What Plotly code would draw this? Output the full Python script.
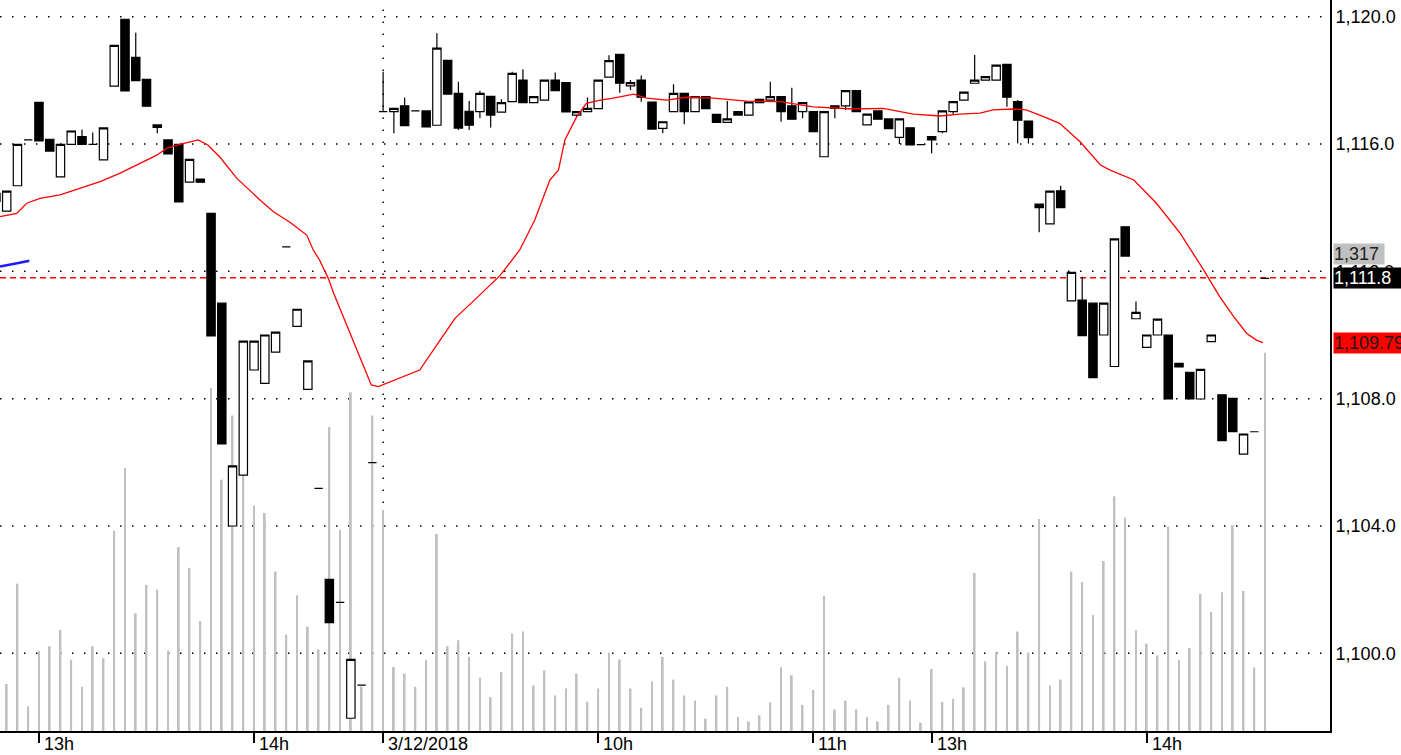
import plotly.graph_objects as go

# ---------------- data ----------------
candle_idx = list(range(-1, 118))
opens = [1114.20, 1113.89, 1114.69, 1116.13, 1117.31, 1116.15, 1114.97, 1115.99, 1116.23, 1115.99,
         1115.50, 1117.82, 1119.92, 1118.72, 1118.03, 1116.60, 1116.13, 1115.99, 1114.80, 1114.90,
         1113.82, 1111.00, 1104.00, 1105.60, 1108.90, 1108.48, 1109.46, 1112.77, 1110.27, 1108.29,
         1105.18, 1102.32, 1101.60, 1097.96, 1099.00, 1105.99,
         1117.02, 1117.02, 1117.20, 1117.04, 1117.04, 1116.59, 1118.63, 1117.59, 1117.03, 1117.02,
         1117.50, 1117.00, 1117.33, 1118.01, 1117.30, 1117.38, 1118.01, 1117.93, 1116.91, 1117.02,
         1117.11, 1118.10, 1118.82, 1117.83, 1118.01, 1117.32, 1116.49, 1117.02, 1117.59, 1117.02,
         1117.49, 1116.93, 1116.68, 1117.02, 1116.91, 1117.30, 1117.38, 1117.49, 1117.20, 1117.02,
         1117.02, 1115.60, 1117.20, 1117.20, 1117.68, 1116.60, 1117.04, 1116.79, 1116.21, 1116.51,
         1115.98, 1116.23, 1116.39, 1117.02, 1117.38, 1117.91, 1118.01, 1118.01, 1118.50, 1117.33,
         1116.72, 1114.11, 1113.49, 1114.53, 1111.07, 1111.10, 1111.00, 1110.00, 1109.01, 1113.40,
         1110.51, 1109.61, 1110.00, 1110.00, 1109.11, 1108.83, 1107.99, 1109.79, 1108.12, 1108.01,
         1106.26, 1106.96, 1111.78]
closes = [1114.45, 1114.52, 1115.99, 1116.13, 1116.10, 1115.78, 1115.99, 1116.41, 1115.99, 1115.99,
          1116.51, 1119.10, 1117.67, 1117.99, 1117.19, 1116.52, 1115.69, 1114.18, 1115.52, 1114.80,
          1109.97, 1106.58, 1105.89, 1109.81, 1109.81, 1110.00, 1110.09, 1112.77, 1110.81, 1109.19,
          1105.18, 1100.96, 1101.60, 1099.81, 1099.00, 1105.99,
          1117.02, 1117.12, 1116.58, 1117.04, 1116.54, 1119.01, 1117.57, 1116.50, 1116.59, 1117.59,
          1116.91, 1117.30, 1118.22, 1117.30, 1117.49, 1118.01, 1117.68, 1117.01, 1117.02, 1117.12,
          1118.01, 1118.62, 1117.91, 1117.93, 1117.47, 1116.47, 1116.70, 1117.59, 1117.02, 1117.49,
          1117.11, 1116.68, 1116.79, 1116.91, 1117.32, 1117.40, 1117.49, 1117.02, 1116.78, 1117.30,
          1116.39, 1117.02, 1117.12, 1117.68, 1117.02, 1116.94, 1116.78, 1116.48, 1116.79, 1115.97,
          1115.98, 1116.13, 1117.04, 1117.33, 1117.63, 1118.01, 1118.12, 1118.48, 1117.47, 1116.75,
          1116.20, 1114.00, 1114.52, 1114.00, 1111.97, 1109.98, 1108.66, 1111.00, 1113.02, 1112.48,
          1110.71, 1110.00, 1110.50, 1107.99, 1109.00, 1107.99, 1108.92, 1110.00, 1106.68, 1106.96,
          1106.89, 1106.96, 1111.78]
# explicit highs / lows where a wick is visible (index -> value)
high_wicks = {7: 1116.46, 8: 1116.36, 12: 1119.50, 35: 1118.27, 37: 1117.46, 40: 1119.48,
              42: 1117.96, 43: 1117.35, 44: 1117.67, 46: 1117.41, 47: 1118.27, 48: 1118.35,
              51: 1118.25, 54: 1117.46, 56: 1118.79, 58: 1118.01, 59: 1118.15, 62: 1117.88,
              67: 1117.35, 71: 1117.96, 73: 1117.77, 90: 1118.80, 94: 1117.38, 98: 1114.69,
              100: 1111.83, 105: 1111.05}
low_wicks = {14: 1116.34, 36: 1116.34, 42: 1116.44, 43: 1116.44, 44: 1116.81, 45: 1116.52,
             53: 1116.86, 57: 1117.61, 58: 1117.70, 59: 1117.33, 61: 1116.34, 63: 1116.62,
             72: 1116.70, 74: 1116.81, 77: 1116.81, 78: 1117.07, 83: 1116.00, 86: 1115.71,
             87: 1116.34, 88: 1116.91, 93: 1117.17, 94: 1116.02, 95: 1116.02, 96: 1113.23}

vol_idx = list(range(0, 118))
volumes = [164, 513, 86, 278, 295, 352, 248, 154, 295, 253,
           697, 916, 410, 509, 492, 279, 640, 568, 383, 1194,
           875, 1098, 979, 785, 759, 555, 336, 473, 363, 284,
           1058, 701, 1179, 155, 1098,
           770, 223, 200, 154, 248, 686, 295, 316, 258, 185,
           118, 205, 340, 346, 158, 211, 124, 148, 200, 102,
           148, 272, 249, 148, 81, 173, 258, 179, 124, 106,
           43, 124, 154, 49, 33, 55, 100, 222, 194, 91,
           143, 471, 75, 106, 75, 49, 33, 91, 185, 106,
           29, 216, 102, 112, 152, 550, 242, 273, 227, 346,
           273, 738, 158, 179, 555, 519, 404, 592, 817, 743,
           352, 304, 263, 712, 248, 289, 477, 415, 483, 717,
           488, 221, 1317]

ma_x = [-0.62, 0.93, 1.86, 3.1, 4.96, 6.8, 8.68, 10.5, 12.4, 13.95, 14.9, 16.1, 17.8, 18.7,
        19.8, 21.4, 22.9, 23.55, 24.8, 26.3, 27.9, 28.5, 29.1, 29.9, 30.4, 31.9, 33.2, 33.9,
        34.55, 35.3, 36.6, 38.4, 40.3, 41.7, 44.0, 45.9, 47.7, 49.1, 50.5, 51.3, 51.9, 53.0,
        53.9, 55.2, 56.4, 58.3, 59.5, 61.4, 63.2, 65.7, 68.8, 71.9, 75.0, 78.7, 81.5, 84.3,
        86.8, 88.6, 90.5, 91.7, 93.6, 94.8, 96.4, 97.9, 99.8, 101.7, 102.6, 104.8, 106.9,
        109.1, 111.3, 112.8, 114.1, 115.3, 116.2, 116.8]
ma_v = [1113.72, 1113.82, 1114.14, 1114.29, 1114.40, 1114.61, 1114.82, 1115.08, 1115.39, 1115.65,
        1115.87, 1115.99, 1116.13, 1115.97, 1115.60, 1114.92, 1114.45, 1114.24, 1113.87, 1113.55,
        1113.14, 1112.67, 1112.35, 1111.78, 1111.31, 1110.05, 1109.00, 1108.43, 1108.38, 1108.48,
        1108.64, 1108.90, 1109.84, 1110.53, 1111.26, 1111.88, 1112.67, 1113.61, 1114.87, 1115.18,
        1116.13, 1116.86, 1117.28, 1117.38, 1117.44, 1117.57, 1117.44, 1117.38, 1117.47, 1117.44,
        1117.35, 1117.33, 1117.17, 1117.10, 1117.12, 1116.94, 1116.88, 1116.94, 1116.97, 1117.07,
        1117.10, 1117.07, 1116.86, 1116.65, 1116.07, 1115.34, 1115.18, 1114.87, 1114.14, 1113.20,
        1112.04, 1111.20, 1110.57, 1110.05, 1109.84, 1109.76]

blue_x = [-0.62, 0.3, 1.2, 2.1]
blue_v = [1112.15, 1112.20, 1112.27, 1112.33]

last_price = 1111.8
ma_last = 1109.79
last_volume = 1317

y_ticks = [1100, 1104, 1108, 1112, 1116, 1120]
x_tick_pos = [3, 23, 35, 55, 75, 86, 106]
x_tick_text = ["13h", "14h", "3/12/2018", "10h", "11h", "13h", "14h"]
day_break = 35

highs = [max(o, c) for o, c in zip(opens, closes)]
lows = [min(o, c) for o, c in zip(opens, closes)]
for k, v in high_wicks.items():
    highs[candle_idx.index(k)] = v
for k, v in low_wicks.items():
    lows[candle_idx.index(k)] = v

# ---------------- figure ----------------
FONT = "Liberation Sans, Arial, sans-serif"
fig = go.Figure()

fig.add_trace(go.Bar(x=vol_idx, y=volumes, width=0.17, marker=dict(color="#c0c0c0", line=dict(width=0)),
                     yaxis="y", showlegend=False, hoverinfo="skip"))

fig.add_trace(go.Candlestick(
    x=candle_idx, open=opens, high=highs, low=lows, close=closes, yaxis="y2",
    increasing=dict(line=dict(color="black", width=1.2), fillcolor="white"),
    decreasing=dict(line=dict(color="black", width=1.2), fillcolor="black"),
    whiskerwidth=0, showlegend=False, hoverinfo="skip"))

fig.add_trace(go.Scatter(x=ma_x, y=ma_v, mode="lines", yaxis="y2",
                         line=dict(color="#ff0000", width=1.3), showlegend=False, hoverinfo="skip"))
fig.add_trace(go.Scatter(x=blue_x, y=blue_v, mode="lines", yaxis="y2",
                         line=dict(color="#1a1aff", width=2.5), showlegend=False, hoverinfo="skip"))

shapes = []
for t in y_ticks:
    shapes.append(dict(type="line", xref="paper", x0=0, x1=1, yref="y2", y0=t, y1=t,
                       line=dict(color="black", width=1.5, dash="1.5px,10.5px"), layer="below"))
shapes.append(dict(type="line", xref="x", x0=day_break, x1=day_break, yref="paper", y0=0, y1=1,
                   line=dict(color="black", width=1.5, dash="1.5px,10.5px"), layer="below"))
shapes.append(dict(type="line", xref="paper", x0=0, x1=1, yref="y2", y0=last_price, y1=last_price,
                   line=dict(color="#ff0000", width=1.5, dash="6px,4px"), layer="below"))

annotations = []
for p, t in zip(x_tick_pos, x_tick_text):
    annotations.append(dict(x=p, xref="x", y=0, yref="paper", text=t, showarrow=False,
                            xanchor="left", yanchor="top", xshift=3, yshift=-1,
                            font=dict(family=FONT, size=18, color="black")))
annotations.append(dict(x=1, xref="paper", y=last_price, yref="y2", text=f"{last_volume:,}",
                        showarrow=False, xanchor="left", yanchor="middle", xshift=3, yshift=24,
                        bgcolor="#c0c0c0", width=50, align="left", borderpad=0,
                        font=dict(family=FONT, size=18, color="#222222")))
annotations.append(dict(x=1, xref="paper", y=last_price, yref="y2", text=f"{last_price:,.1f}",
                        showarrow=False, xanchor="left", yanchor="middle", xshift=3,
                        bgcolor="black", width=68, align="left", borderpad=0,
                        font=dict(family=FONT, size=18, color="white")))
annotations.append(dict(x=1, xref="paper", y=1109.75, yref="y2", text=f"{ma_last:,.2f}",
                        showarrow=False, xanchor="left", yanchor="middle", xshift=3,
                        bgcolor="#ff0000", width=80, align="left", borderpad=0,
                        font=dict(family=FONT, size=18, color="#1a1a1a")))

fig.update_layout(
    width=1401, height=755,
    margin=dict(l=0, r=71, t=0, b=24),
    paper_bgcolor="white", plot_bgcolor="white",
    boxgap=0.12, boxgroupgap=0.12,
    showlegend=False,
    xaxis=dict(range=[-0.623, 123.04], showgrid=False, zeroline=False, showline=True,
               linecolor="black", linewidth=2, tickvals=x_tick_pos, ticks="outside",
               ticklen=10, tickwidth=1.5, tickcolor="black", showticklabels=False,
               rangeslider=dict(visible=False), fixedrange=True),
    yaxis=dict(range=[0, 2545], visible=False, fixedrange=True),
    yaxis2=dict(range=[1097.559, 1120.525], overlaying="y", side="right", showgrid=False,
                zeroline=False, showline=True, linecolor="black", linewidth=2,
                tickvals=y_ticks, tickformat=",.1f", ticks="",
                tickfont=dict(family=FONT, size=18, color="black"), fixedrange=True),
    shapes=shapes, annotations=annotations,
)

fig.write_html("out.html", config={"displayModeBar": False},
               post_script="document.body.style.margin='0px';document.body.style.overflow='hidden';")
